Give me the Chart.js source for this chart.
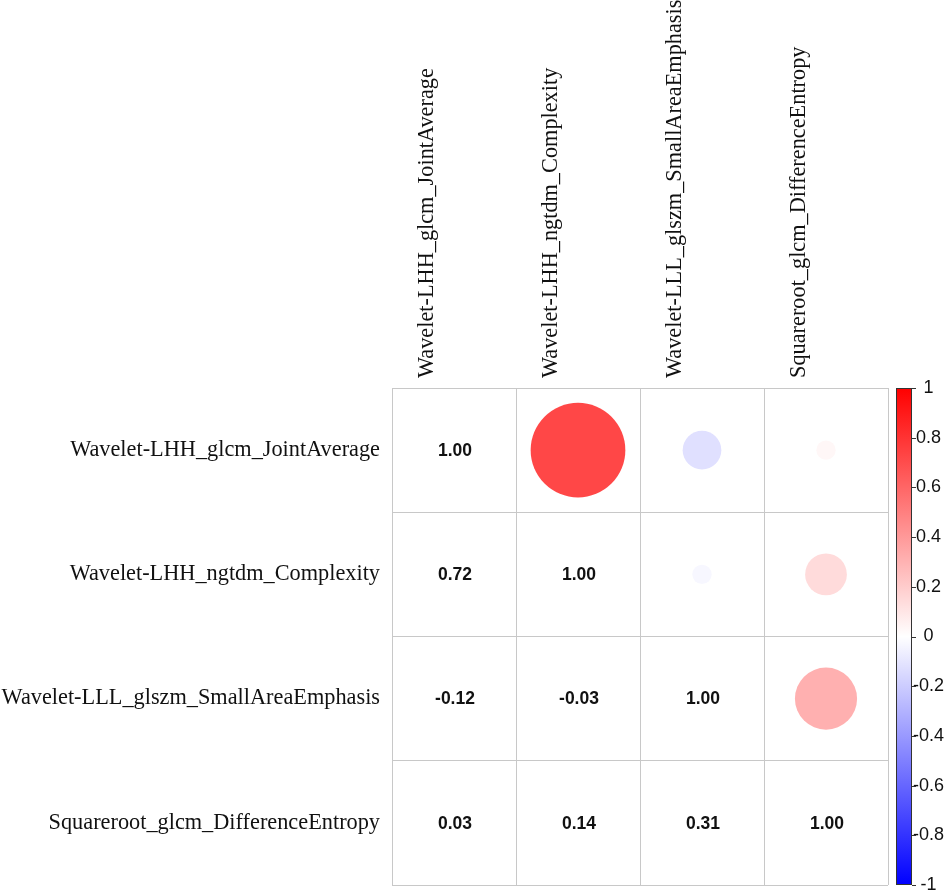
<!DOCTYPE html>
<html>
<head>
<meta charset="utf-8">
<script src="https://cdn.jsdelivr.net/npm/chart.js@4/dist/chart.umd.min.js"></script>
<style>
  html, body { margin: 0; padding: 0; background: #fff; }
  #wrap { width: 945px; height: 892px; }
</style>
</head>
<body>
<div id="wrap"><canvas id="corr-chart" width="945" height="892"></canvas></div>
<script>
// features (same order on both axes)
const features = [
  'Wavelet-LHH_glcm_JointAverage',
  'Wavelet-LHH_ngtdm_Complexity',
  'Wavelet-LLL_glszm_SmallAreaEmphasis',
  'Squareroot_glcm_DifferenceEntropy'
];

// correlation rows
const rowJointAverage = [1.00, 0.72, -0.12, 0.03];
const rowComplexity = [0.72, 1.00, -0.03, 0.14];
const rowSmallArea = [-0.12, -0.03, 1.00, 0.31];
const rowDiffEntropy = [0.03, 0.14, 0.31, 1.00];

// colour bar ticks
const barMin = -1;
const barMax = 1;
const barStep = 0.2;

const corr = [rowJointAverage, rowComplexity, rowSmallArea, rowDiffEntropy];

function corrColor(v) {
  if (v >= 0) {
    const c = Math.round(255 * (1 - v));
    return `rgb(255, ${c}, ${c})`;
  }
  const c = Math.round(255 * (1 + v));
  return `rgb(${c}, ${c}, 255)`;
}

// circles go in the upper triangle, numbers in the lower one
const circlePoints = [];
const numberCells = [];
corr.forEach((row, i) => {
  row.forEach((v, j) => {
    const cell = { x: features[j], y: features[i], v: v };
    if (j > i) circlePoints.push(cell);
    else numberCells.push(cell);
  });
});

function circleRadius(ctx) {
  const xs = ctx.chart.scales.x;
  const cell = xs.width / features.length;
  return 0.45 * cell * Math.sqrt(Math.abs(ctx.raw.v));
}

// no extra room around the axes, the grid has to sit where the reference has it
function noPadding(scale) {
  scale.paddingTop = 0;
  scale.paddingBottom = 0;
  scale.paddingLeft = 0;
  scale.paddingRight = 0;
}

const numbersPlugin = {
  id: 'corrNumbers',
  afterDatasetsDraw(chart) {
    const { ctx, scales } = chart;
    ctx.save();
    ctx.fillStyle = '#111';
    ctx.font = 'bold 17.5px "Liberation Sans", Arial, sans-serif';
    ctx.textAlign = 'center';
    ctx.textBaseline = 'middle';
    numberCells.forEach(c => {
      const px = scales.x.getPixelForValue(features.indexOf(c.x));
      const py = scales.y.getPixelForValue(features.indexOf(c.y));
      ctx.fillText(c.v.toFixed(2), px + 1, py + 1);
    });
    ctx.restore();
  }
};

const colorBarPlugin = {
  id: 'colorBar',
  afterDraw(chart) {
    const { ctx } = chart;
    const cb = chart.scales.cb;
    const left = chart.chartArea.right + 8;
    const w = 16;
    const top = cb.getPixelForValue(barMax);
    const bottom = cb.getPixelForValue(barMin);
    const grad = ctx.createLinearGradient(0, top, 0, bottom);
    grad.addColorStop(0, corrColor(1));
    grad.addColorStop(0.5, corrColor(0));
    grad.addColorStop(1, corrColor(-1));
    ctx.save();
    ctx.fillStyle = grad;
    ctx.fillRect(left, top, w, bottom - top);
    ctx.strokeStyle = '#333';
    ctx.lineWidth = 1;
    ctx.strokeRect(left + 0.5, top + 0.5, w - 1, bottom - top - 1);
    cb.ticks.forEach(t => {
      const y = Math.round(cb.getPixelForValue(t.value)) + 0.5;
      ctx.beginPath();
      ctx.moveTo(left + w, y);
      ctx.lineTo(left + w + 4, y);
      ctx.stroke();
    });
    ctx.restore();
  }
};

new Chart(document.getElementById('corr-chart').getContext('2d'), {
  type: 'scatter',
  data: {
    labels: features,
    datasets: [{
      data: circlePoints,
      pointRadius: circleRadius,
      pointHoverRadius: circleRadius,
      backgroundColor: ctx => corrColor(ctx.raw.v),
      borderWidth: 0,
      hoverBorderWidth: 0
    }]
  },
  options: {
    responsive: false,
    animation: false,
    events: [],
    layout: { padding: { left: 0, right: 0, top: 0, bottom: 7 } },
    plugins: {
      legend: { display: false },
      tooltip: { enabled: false }
    },
    scales: {
      x: {
        type: 'category',
        labels: features,
        position: 'top',
        offset: true,
        grid: { offset: true, color: '#c8c8c8', drawTicks: false },
        border: { color: '#c8c8c8' },
        ticks: {
          autoSkip: false,
          minRotation: 90,
          maxRotation: 90,
          padding: 10,
          color: '#111',
          font: { family: '"Liberation Serif", "Times New Roman", serif', size: 22.3 }
        },
        afterFit(scale) {
          scale.height = 388;
          noPadding(scale);
        }
      },
      y: {
        type: 'category',
        labels: features,
        position: 'left',
        offset: true,
        grid: { offset: true, color: '#c8c8c8', drawTicks: false },
        border: { color: '#c8c8c8' },
        ticks: {
          autoSkip: false,
          padding: 12,
          color: '#111',
          font: { family: '"Liberation Serif", "Times New Roman", serif', size: 22.3 }
        },
        afterFit(scale) {
          scale.width = 392;
          noPadding(scale);
        }
      },
      cb: {
        type: 'linear',
        position: 'right',
        min: barMin,
        max: barMax,
        grid: { drawOnChartArea: false, drawTicks: true, tickLength: 23, color: 'rgba(0,0,0,0)' },
        border: { display: false },
        ticks: {
          stepSize: barStep,
          autoSkip: false,
          padding: 2,
          crossAlign: 'center',
          color: '#111',
          font: { family: '"Liberation Sans", Arial, sans-serif', size: 18 },
          callback: v => String(Math.round(v * 10) / 10)
        },
        afterFit(scale) {
          scale.width = 57;
          noPadding(scale);
        }
      }
    }
  },
  plugins: [numbersPlugin, colorBarPlugin]
});
</script>
</body>
</html>
